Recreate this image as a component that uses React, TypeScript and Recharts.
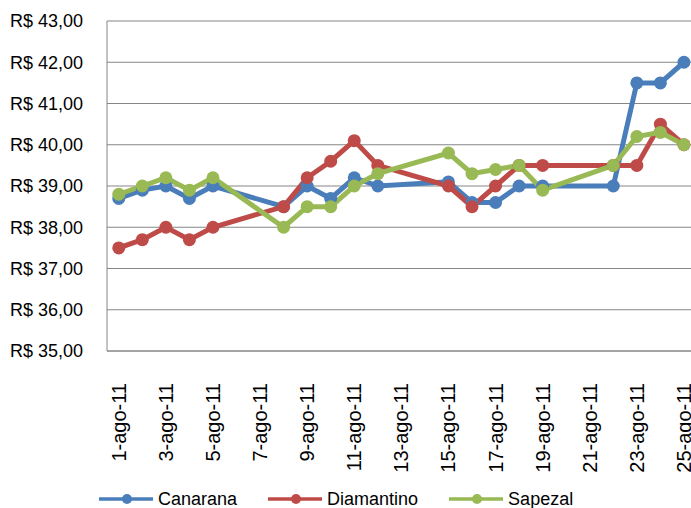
import React from 'react';
import { LineChart, Line, XAxis, YAxis, CartesianGrid, Legend } from 'recharts';

const days = [1, 2, 3, 4, 5, 8, 9, 10, 11, 12, 15, 16, 17, 18, 19, 22, 23, 24, 25];
const canarana = [38.7, 38.9, 39.0, 38.7, 39.0, 38.5, 39.0, 38.7, 39.2, 39.0, 39.1, 38.6, 38.6, 39.0, 39.0, 39.0, 41.5, 41.5, 42.0];
const diamantino = [37.5, 37.7, 38.0, 37.7, 38.0, 38.5, 39.2, 39.6, 40.1, 39.5, 39.0, 38.5, 39.0, 39.5, 39.5, 39.5, 39.5, 40.5, 40.0];
const sapezal = [38.8, 39.0, 39.2, 38.9, 39.2, 38.0, 38.5, 38.5, 39.0, 39.3, 39.8, 39.3, 39.4, 39.5, 38.9, 39.5, 40.2, 40.3, 40.0];
const xTicks = [1, 3, 5, 7, 9, 11, 13, 15, 17, 19, 21, 23, 25];
const yTicks = [35, 36, 37, 38, 39, 40, 41, 42, 43];
const seriesNames = ['Canarana', 'Diamantino', 'Sapezal'];
const colors = ['#4A7EBB', '#BE4B48', '#98B954'];

const data = days.map((d, i) => ({
  day: d,
  Canarana: canarana[i],
  Diamantino: diamantino[i],
  Sapezal: sapezal[i],
}));

const FONT = '"Liberation Sans", Arial, sans-serif';

const fmtY = (v: number) => 'R$ ' + v.toFixed(2).replace('.', ',');

const XTick = (props: any) => {
  const { x, y, payload } = props;
  const ty = y + 24;
  return (
    <text
      x={x}
      y={ty}
      transform={`rotate(-90, ${x}, ${ty})`}
      textAnchor="end"
      dy="0.35em"
      fontSize={20}
      fontFamily={FONT}
      fill="#000"
    >
      {`${payload.value}-ago-11`}
    </text>
  );
};

const LegendContent = () => (
  <div style={{ display: 'flex', alignItems: 'center', paddingLeft: 99, height: 20, fontFamily: FONT, fontSize: 18, lineHeight: '20px', color: '#000' }}>
    {seriesNames.map((n, i) => (
      <div key={n} style={{ display: 'flex', alignItems: 'center', marginRight: 31 }}>
        <svg width={54} height={14} style={{ display: 'block' }}>
          <line x1={0} y1={7} x2={54} y2={7} stroke={colors[i]} strokeWidth={3.5} />
          <circle cx={28} cy={7} r={5} fill={colors[i]} />
        </svg>
        <span style={{ marginLeft: 5 }}>{n}</span>
      </div>
    ))}
  </div>
);

export default function App() {
  return (
    <div style={{ position: 'fixed', left: 0, top: 0, width: 691, height: 508, overflow: 'hidden', background: '#fff' }}>
      <LineChart width={691} height={520} data={data} margin={{ top: 21, right: 0, left: 0, bottom: 0 }} style={{ fontFamily: FONT }}>
        <CartesianGrid vertical={false} stroke="#868686" strokeWidth={1} />
        <XAxis
          dataKey="day"
          type="number"
          domain={[0.5, 25.3]}
          ticks={xTicks}
          interval={0}
          tickLine={false}
          axisLine={{ stroke: '#868686' }}
          height={129}
          tick={<XTick />}
        />
        <YAxis
          type="number"
          domain={[35, 43]}
          ticks={yTicks}
          interval={0}
          width={107}
          tickLine={false}
          tickSize={0}
          tickMargin={24}
          axisLine={{ stroke: '#868686' }}
          tickFormatter={fmtY}
          tick={{ fill: '#000', fontSize: 18, fontFamily: FONT }}
        />
        <Legend
          verticalAlign="bottom"
          height={40}
          wrapperStyle={{ left: 0, top: 489, width: 691 }}
          content={<LegendContent />}
        />
        {seriesNames.map((n, i) => (
          <Line
            key={n}
            dataKey={n}
            type="linear"
            stroke={colors[i]}
            strokeWidth={5}
            dot={{ r: 6.5, fill: colors[i], stroke: colors[i], strokeWidth: 0 }}
            activeDot={false}
            isAnimationActive={false}
          />
        ))}
      </LineChart>
    </div>
  );
}
